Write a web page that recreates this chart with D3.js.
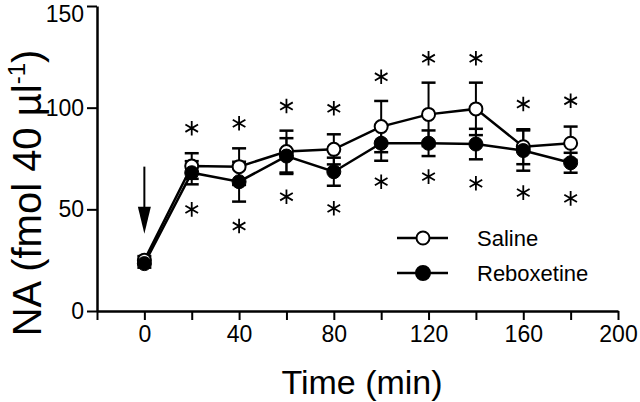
<!DOCTYPE html>
<html>
<head>
<meta charset="utf-8">
<script src="https://cdn.jsdelivr.net/npm/d3@7"></script>
<style>
  html, body { margin: 0; padding: 0; background: #fff; }
  svg { display: block; }
  text { font-family: "Liberation Sans", Arial, Helvetica, sans-serif; fill: #000; }
</style>
</head>
<body>
<svg id="chart" width="640" height="402"></svg>
<script>
// ---- data ----
const times = [0, 20, 40, 60, 80, 100, 120, 140, 160, 180];
const saline = [25, 71.3, 71, 78.4, 79.5, 90.7, 96.7, 99.4, 80.8, 82.5];
const salineErr = [2, 6.3, 9, 10.3, 7.4, 12.6, 15.6, 12.9, 8.6, 8.2];
const reboxetine = [23.3, 68, 63.6, 76.2, 68.5, 82.5, 82.5, 82.1, 78.9, 72.9];
const reboxetineErr = [2, 5.7, 9.8, 8.8, 6.9, 8.6, 6.3, 7.5, 9.9, 4.9];
const starTimes = [20, 40, 60, 80, 100, 120, 140, 160, 180];
const starsAbove = [89.9, 92.3, 100.8, 99.7, 115.2, 124.3, 124.3, 101.8, 103.4];
const starsBelow = [50, 41.8, 56.2, 50.5, 63.6, 66.1, 62.8, 58.2, 55.4];
const xTicks = [-20, 0, 20, 40, 60, 80, 100, 120, 140, 160, 180, 200];
const xTickLabels = [0, 40, 80, 120, 160, 200];
const yTicks = [0, 50, 100, 150];
const arrowFrom = 71, arrowTo = 38, arrowTime = 0;
const seriesNames = ["Saline", "Reboxetine"];

// ---- scales ----
const svg = d3.select("#chart");
const x = d3.scaleLinear().domain([-20, 200]).range([97, 618]);
const y = d3.scaleLinear().domain([0, 150]).range([311, 6]);

// ---- axes ----
const xAxis = d3.axisBottom(x).tickValues(xTicks).tickSize(9).tickSizeOuter(0)
  .tickFormat(d => xTickLabels.includes(d) ? d : "");
const gx = svg.append("g").attr("transform", `translate(0,${y(0)})`).call(xAxis);
gx.select(".domain").attr("stroke-width", 2.5).attr("stroke", "#000");
gx.selectAll(".tick line").attr("stroke-width", 2).attr("stroke", "#000");
gx.selectAll(".tick text").attr("font-size", 23).attr("font-family", "Liberation Sans, Arial, sans-serif")
  .attr("dy", "0.71em").attr("y", 15);

const yAxis = d3.axisLeft(y).tickValues(yTicks).tickSize(10).tickSizeOuter(0);
const gy = svg.append("g").attr("transform", `translate(${x(-20)},0)`).call(yAxis);
gy.select(".domain").attr("stroke-width", 2.5).attr("stroke", "#000");
gy.selectAll(".tick line").attr("stroke-width", 2).attr("stroke", "#000");
gy.selectAll(".tick text").attr("font-size", 23).attr("font-family", "Liberation Sans, Arial, sans-serif")
  .attr("x", -13).attr("dy", d => d === 150 ? "0.68em" : "0.32em");

// axis titles
svg.append("text").attr("x", 362).attr("y", 394).attr("text-anchor", "middle")
  .attr("font-size", 34).text("Time (min)");

const yt = svg.append("text").attr("transform", "translate(41,193) rotate(-90)")
  .attr("text-anchor", "middle").attr("font-size", 40);
yt.append("tspan").text("NA (fmol 40 µl");
yt.append("tspan").attr("font-size", 24).attr("dy", -16).text("-1");
yt.append("tspan").attr("dy", 16).text(")");

// ---- arrow ----
svg.append("line").attr("x1", x(arrowTime)).attr("x2", x(arrowTime))
  .attr("y1", y(arrowFrom)).attr("y2", y(arrowTo) - 20)
  .attr("stroke", "#000").attr("stroke-width", 2);
svg.append("path")
  .attr("d", `M${x(arrowTime) - 6.5},${y(arrowTo) - 27} L${x(arrowTime) + 6.5},${y(arrowTo) - 27} L${x(arrowTime)},${y(arrowTo)} Z`)
  .attr("fill", "#000");

// ---- lines ----
const line = d3.line().x((d, i) => x(times[i])).y(d => y(d));
[reboxetine, saline].forEach(s => {
  svg.append("path").datum(s).attr("d", line).attr("fill", "none")
    .attr("stroke", "#000").attr("stroke-width", 2.5);
});

// ---- error bars ----
function errorBars(vals, errs) {
  const g = svg.append("g").attr("stroke", "#000");
  vals.forEach((v, i) => {
    const cx = x(times[i]);
    g.append("line").attr("x1", cx).attr("x2", cx).attr("y1", y(v - errs[i])).attr("y2", y(v + errs[i]))
      .attr("stroke-width", 2);
    [v - errs[i], v + errs[i]].forEach(e => {
      g.append("line").attr("x1", cx - 7).attr("x2", cx + 7).attr("y1", y(e)).attr("y2", y(e))
        .attr("stroke-width", 2.5);
    });
  });
}
errorBars(reboxetine, reboxetineErr);
errorBars(saline, salineErr);

// ---- markers ----
svg.append("g").selectAll("circle").data(saline).join("circle")
  .attr("cx", (d, i) => x(times[i])).attr("cy", d => y(d)).attr("r", 6.5)
  .attr("fill", "#fff").attr("stroke", "#000").attr("stroke-width", 2);
svg.append("g").selectAll("circle").data(reboxetine).join("circle")
  .attr("cx", (d, i) => x(times[i])).attr("cy", d => y(d)).attr("r", 7)
  .attr("fill", "#000").attr("stroke", "#000").attr("stroke-width", 1);

// ---- asterisks ----
const star = d3.symbol().type(d3.symbolAsterisk).size(150);
[starsAbove, starsBelow].forEach(arr => {
  svg.append("g").selectAll("path").data(arr).join("path")
    .attr("transform", (d, i) => `translate(${x(starTimes[i])},${y(d)})`)
    .attr("d", star).attr("fill", "none").attr("stroke", "#000").attr("stroke-width", 1.8);
});

// ---- legend ----
const legY = [238, 273];
seriesNames.forEach((name, i) => {
  const g = svg.append("g").attr("transform", `translate(0,${legY[i]})`);
  g.append("line").attr("x1", 397).attr("x2", 448).attr("stroke", "#000").attr("stroke-width", 2.5);
  g.append("circle").attr("cx", 423).attr("r", i === 0 ? 6.5 : 7)
    .attr("fill", i === 0 ? "#fff" : "#000").attr("stroke", "#000").attr("stroke-width", 2);
  g.append("text").attr("x", 477).attr("dy", "0.35em").attr("font-size", 22).text(name);
});
</script>
</body>
</html>
